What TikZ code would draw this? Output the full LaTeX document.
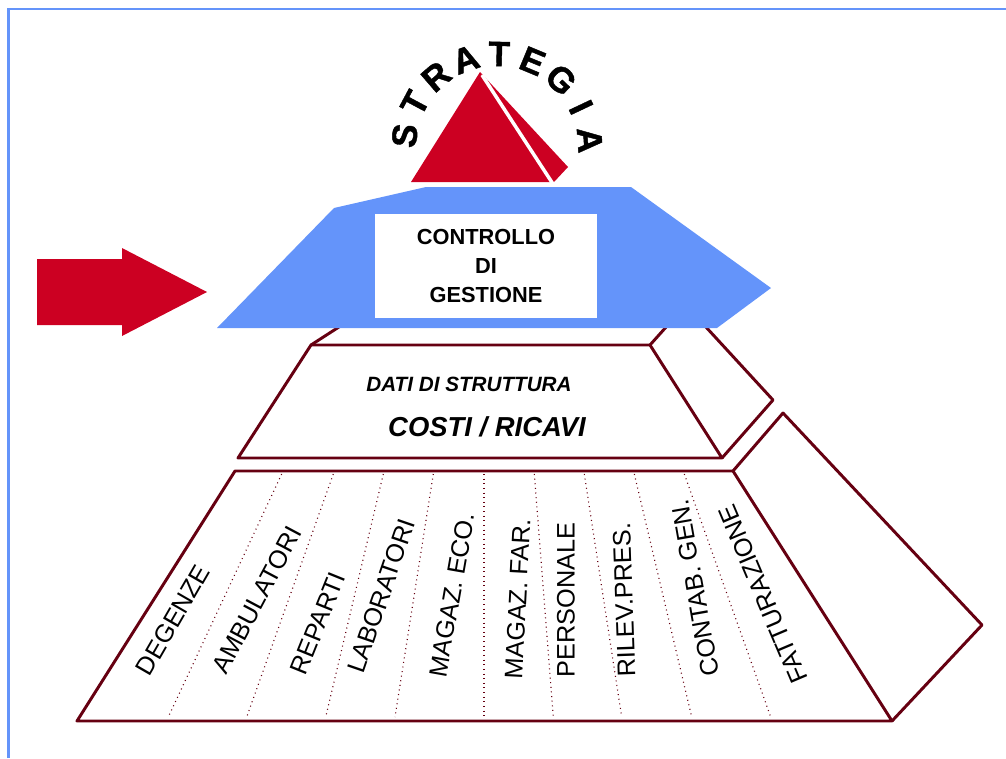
\documentclass[tikz,border=0pt]{standalone}
\usepackage{fontspec}
\setmainfont{Liberation Sans}
\newfontfamily\heavyfont{Liberation Sans Bold}[FakeBold=1.2]
\definecolor{wine}{RGB}{102,0,17}
\definecolor{crimson}{RGB}{204,0,34}
\definecolor{skyblue}{RGB}{100,148,250}
\tikzset{
  level/.style={draw=wine, line width=2.1pt, line join=round},
  divider/.style={draw=wine, line width=0.8pt, dash pattern=on 0.7pt off 2.6pt},
  letter/.style={font=\heavyfont\fontsize{25}{25}\selectfont, inner sep=0pt},
  column/.style={font=\fontsize{18}{18}\selectfont, inner sep=0pt},
}

\begin{document}
\begin{tikzpicture}[x=0.025cm, y=-0.025cm]
\useasboundingbox (0,0) rectangle (1006,758);

    % frame and arrow
    \draw[skyblue, line width=2.1pt] (8.5,758) -- (8.5,9) -- (1006,9);
    \fill[crimson] (37,259) -- (122,259) -- (122,248) -- (207,292) -- (122,336) -- (122,325) -- (37,325) -- cycle;

    % strategia
    \fill[crimson] (480,72) -- (568,167) -- (554,182) -- (551,182) -- cycle;
    \fill[crimson] (480,72) -- (411,182) -- (551,182) -- cycle;
    \draw[white, line width=2.5pt] (482,75) -- (553,184);
    \foreach \l [count=\i] in {S,T,R,A,T,E,G,I,A} {
        \pgfmathsetmacro\a{173-(\i-1)*21.1}
        \node[letter, rotate=\a-90] (s\i) at ({497+93*cos(\a)},{147-93*sin(\a)}) {\l};
    }

    % bottom level
    \coordinate (a) at (235,471);
    \coordinate (b) at (733,471);
    \coordinate (c) at (892,721);
    \coordinate (d) at (77,721);
    \coordinate (e) at (783,413);
    \coordinate (f) at (982,625);
    \draw[level] (a) -- (b) -- (c) -- (d) -- cycle;
    \draw[level] (b) -- (e) -- (f) -- (c);
    \foreach \t/\b in {281.7/168.3, 333.3/246.7, 383.3/325.7, 433.3/395, 484/484, 534.3/553.3, 584.3/621.7, 634.3/691.7, 684.3/770.7}
        \draw[divider] (\t,474) -- (\b,717);
    \foreach \x/\y/\r/\t [count=\i] in {173/620/60/DEGENZE, 257/600/62/AMBULATORI, 318/623/68/REPARTI,
        381/596/71/LABORATORI, 452/595/80/MAGAZ. ECO., 518/599/87/MAGAZ. FAR., 566/600/90/PERSONALE,
        624/600/92/RILEV.PRES., 695/588/100/CONTAB. GEN., 763/594/113/FATTURAZIONE}
        \node[column, rotate=\r] (l\i) at (\x,\y) {\t};

    % middle level
    \coordinate (g) at (311,345);
    \coordinate (h) at (650,345);
    \coordinate (i) at (722,458);
    \coordinate (j) at (238,458);
    \coordinate (k) at (705,326);
    \coordinate (m) at (773,400);
    \draw[level] (g) -- (h) -- (i) -- (j) -- cycle;
    \draw[level] (i) -- (m) -- (k);
    \draw[level] (g) -- (342,325);
    \draw[level] (h) -- (667,326);
    \node[font=\bfseries\itshape\fontsize{14.7}{14.7}\selectfont] (dati) at (469,384) {DATI DI STRUTTURA};
    \node[font=\bfseries\itshape\fontsize{19.5}{19.5}\selectfont] (costi) at (487,427) {COSTI / RICAVI};

    % top level
    \fill[skyblue] (217,328) -- (334,208) -- (426,187) -- (631,187) -- (771,288) -- (717,328) -- cycle;
    \node[fill=white, minimum width=5.55cm, minimum height=2.575cm, align=center,
          font=\bfseries\fontsize{15.5}{20.6}\selectfont] (cg) at (486,266) {CONTROLLO\\DI\\GESTIONE};

\end{tikzpicture}
\end{document}
